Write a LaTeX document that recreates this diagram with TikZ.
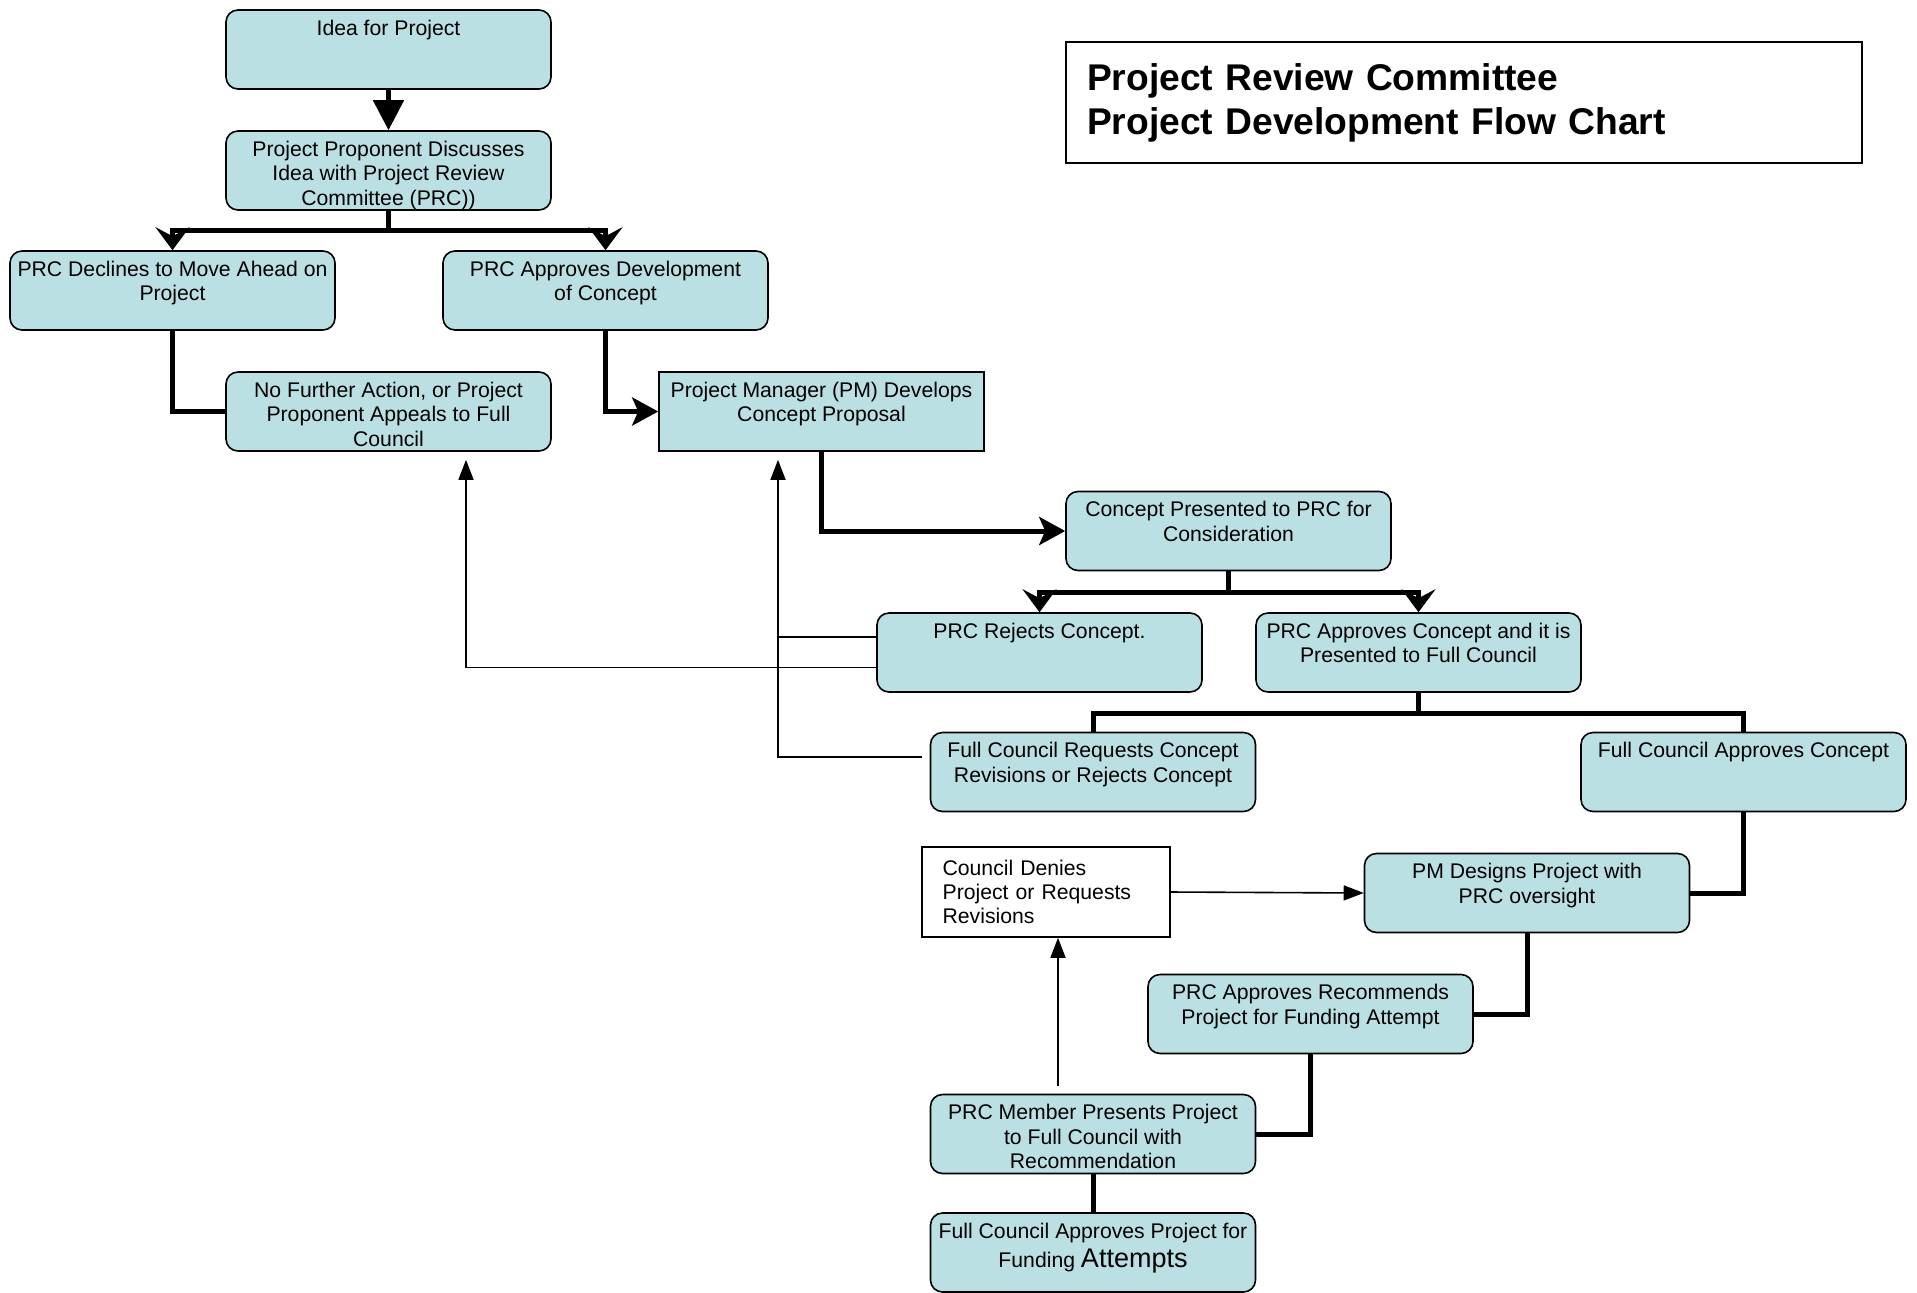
\documentclass[tikz,border=0pt]{standalone}
\usepackage{fontspec}
\setmainfont{Liberation Sans}
\usetikzlibrary{arrows.meta}
\definecolor{boxfill}{RGB}{187,224,227}
\newcommand{\toptext}[1]{\parbox[t][33.5pt][t]{158pt}{\centering\rule{0pt}{9.6pt}#1}}

\begin{document}
\begin{tikzpicture}[x=0.5pt,y=-0.5pt,
    box/.style={draw,line width=0.8pt,fill=boxfill,rounded corners=6pt,
      inner xsep=2.25pt,inner ysep=3pt,font=\fontsize{10.6}{12.2}\selectfont},
    sqbox/.style={box,sharp corners},
    plainbox/.style={draw,line width=0.8pt,fill=white,minimum width=124pt,
      minimum height=45pt,text width=103.4pt,inner xsep=10.3pt,align=left,
      font=\fontsize{10.6}{12.2}\selectfont},
    titlebox/.style={draw,line width=0.8pt,minimum width=398pt,minimum height=60.5pt,
      text width=377pt,inner xsep=10.5pt,align=left,
      font=\fontsize{18.6}{22}\selectfont\bfseries},
    link/.style={line width=2.5pt},
    bigarrow/.style={link,-{Stealth[length=13pt,width=14pt,inset=3pt]}},
    branch/.style={link,-{Stealth[length=11.5pt,width=17pt,inset=4.5pt]}},
    back/.style={line width=0.8pt,-{Triangle[length=10pt,width=7.5pt]}}]
    \useasboundingbox (0,0) rectangle (1917,1292);

    \node[titlebox](title) at (1464,102.5) {Project Review Committee\\Project Development Flow Chart};

    \node[box](idea) at (388.5,49.5) {\toptext{Idea for Project}};
    \node[box](discuss) at (388.5,170.5) {\toptext{Project Proponent Discusses\\Idea with Project Review\\Committee (PRC))}};
    \node[box](declines) at (172.5,290.5) {\toptext{PRC Declines to Move Ahead on\\Project}};
    \node[box](approvesdev) at (605.5,290.5) {\toptext{PRC Approves Development\\of Concept}};
    \node[box](nofurther) at (388.5,411.5) {\toptext{No Further Action, or Project\\Proponent Appeals to Full\\Council}};
    \node[sqbox](pmdevelops) at (821.5,411.5) {\toptext{Project Manager (PM) Develops\\Concept Proposal}};
    \node[box](presented) at (1228.5,531) {\toptext{Concept Presented to PRC for\\Consideration}};
    \node[box](rejects) at (1039.5,652.5) {\toptext{PRC Rejects Concept.}};
    \node[box](approvesconc) at (1418.5,652.5) {\toptext{PRC Approves Concept and it is\\Presented to Full Council}};
    \node[box](fcrequests) at (1093,772) {\toptext{Full Council Requests Concept\\Revisions or Rejects Concept}};
    \node[box](fcapproves) at (1743.5,772) {\toptext{Full Council Approves Concept}};
    \node[plainbox](denies) at (1046,892) {Council Denies\\Project or Requests\\Revisions};
    \node[box](pmdesigns) at (1527,893) {\toptext{PM Designs Project with\\PRC oversight}};
    \node[box](recommends) at (1310.5,1014) {\toptext{PRC Approves Recommends\\Project for Funding Attempt}};
    \node[box](member) at (1093,1134) {\toptext{PRC Member Presents Project\\to Full Council with\\Recommendation}};
    \node[box](funding) at (1093,1252.5) {\toptext{Full Council Approves Project for\\[2.5pt]Funding {\fontsize{13.5}{12.2}\selectfont Attempts}}};

    \draw[link,-{Triangle[length=15pt,width=15pt]}] (idea) -- (discuss);
    \draw[link] (discuss.south) -- ++(0,20) coordinate (split1);
    \draw[branch] (split1) -| (declines.north);
    \draw[branch] (split1) -| (approvesdev.north);
    \draw[link] (declines.south) |- (nofurther.west);
    \draw[bigarrow] (approvesdev.south) |- (pmdevelops.west);
    \draw[bigarrow] (pmdevelops.south) |- (presented.west);
    \draw[link] (presented.south) -- ++(0,21) coordinate (split2);
    \draw[branch] (split2) -| (rejects.north);
    \draw[branch] (split2) -| (approvesconc.north);
    \draw[link] (approvesconc.south) -- ++(0,21) coordinate (split3);
    \draw[link] (split3) -| (fcrequests.north);
    \draw[link] (split3) -| (fcapproves.north);
    \draw[link] (fcapproves.south) |- (pmdesigns.east);
    \draw[link] (pmdesigns.south) |- (recommends.east);
    \draw[link] (recommends.south) |- (member.east);
    \draw[link] (member) -- (funding);

    \coordinate (pmfoot) at ([xshift=-21.75pt,yshift=-4pt]pmdevelops.south);
    \draw[back] ([xshift=-4pt,yshift=7.5pt]fcrequests.west) -| (pmfoot);
    \draw[line width=0.8pt] ([yshift=7.75pt]rejects.west) -- ([yshift=7.75pt]rejects.west -| pmfoot);
    \draw[back] ([yshift=-7.5pt]rejects.west) -| ([xshift=38.75pt,yshift=-4pt]nofurther.south);
    \draw[back] (denies.east) -- (pmdesigns.west);
    \draw[back] ([xshift=-17.5pt,yshift=4pt]member.north) -- ([xshift=6pt]denies.south);
\end{tikzpicture}
\end{document}
